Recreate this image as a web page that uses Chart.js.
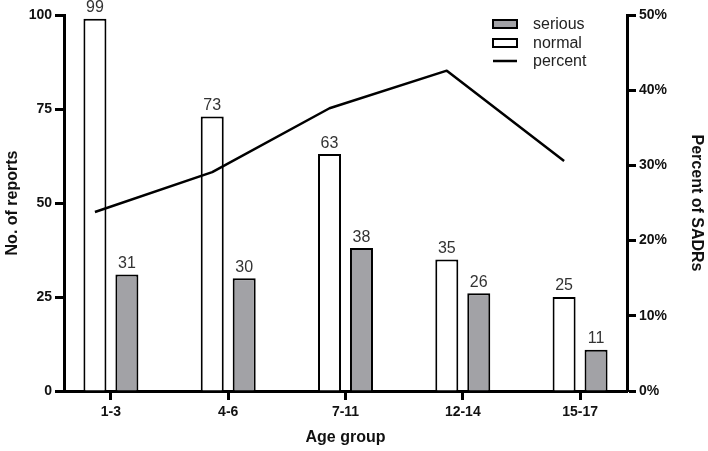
<!DOCTYPE html>
<html><head><meta charset="utf-8">
<script src="https://cdn.jsdelivr.net/npm/chart.js@4"></script>
<style>html,body{margin:0;padding:0;background:#fff}</style>
</head><body>
<canvas id="c" width="708" height="451"></canvas>
<script>
const categories = ['1-3', '4-6', '7-11', '12-14', '15-17'];
const normalReports = [99, 73, 63, 35, 25];
const seriousReports = [31, 30, 38, 26, 11];
const percentSADRs = [23.8, 29.1, 37.6, 42.6, 30.6];
const leftTicks = [0, 25, 50, 75, 100];
const rightTicks = [0, 10, 20, 30, 40, 50];

const FONT = '"Liberation Sans", Arial, Helvetica, sans-serif';
const CAT_PCT = 0.545;
const BAR_PCT = 0.72;
const lineShift = -CAT_PCT / 4; // centre of the first bar slot in each group

const valueLabels = {
  id: 'valueLabels',
  afterDatasetsDraw(chart) {
    const ctx = chart.ctx;
    ctx.save();
    ctx.font = '16px ' + FONT;
    ctx.fillStyle = '#333';
    ctx.textAlign = 'center';
    ctx.textBaseline = 'bottom';
    chart.data.datasets.forEach((ds, di) => {
      if (ds.type === 'line') return;
      const meta = chart.getDatasetMeta(di);
      meta.data.forEach((el, i) => {
        ctx.fillText(String(ds.data[i].y), el.x, el.y - 3);
      });
    });
    ctx.restore();
  }
};

const customLegend = {
  id: 'customLegend',
  afterDraw(chart) {
    const ctx = chart.ctx;
    const a = chart.chartArea;
    const x0 = a.right - 134, tx = a.right - 94;
    const order = [1, 0, 2];
    const rowY = [a.top + 9, a.top + 28, a.top + 46];
    ctx.save();
    ctx.font = '16px ' + FONT;
    ctx.textBaseline = 'middle';
    ctx.textAlign = 'left';
    order.forEach((di, r) => {
      const ds = chart.data.datasets[di];
      const y = rowY[r];
      if (ds.type === 'line') {
        ctx.strokeStyle = '#000';
        ctx.lineWidth = 2.5;
        ctx.beginPath();
        ctx.moveTo(x0, y);
        ctx.lineTo(x0 + 24, y);
        ctx.stroke();
      } else {
        ctx.fillStyle = ds.backgroundColor;
        ctx.fillRect(x0, y - 4, 24, 8);
        ctx.strokeStyle = '#000';
        ctx.lineWidth = 2;
        ctx.strokeRect(x0, y - 4, 24, 8);
      }
      ctx.fillStyle = '#222';
      ctx.fillText(ds.label, tx, y + 1);
    });
    ctx.restore();
  }
};

const axisGrid = {
  display: true, drawOnChartArea: false, drawTicks: true, offset: false,
  tickLength: 9, tickWidth: 3, tickColor: '#000'
};
const axisBorder = { display: true, width: 3, color: '#000' };

new Chart(document.getElementById('c'), {
  type: 'bar',
  data: {
    datasets: [
      {
        label: 'normal',
        data: normalReports.map((v, i) => ({ x: i, y: v })),
        backgroundColor: '#ffffff', borderColor: '#000', borderWidth: 2,
        categoryPercentage: CAT_PCT, barPercentage: BAR_PCT,
        xAxisID: 'x', yAxisID: 'y', order: 2
      },
      {
        label: 'serious',
        data: seriousReports.map((v, i) => ({ x: i, y: v })),
        backgroundColor: '#a2a2a6', borderColor: '#000', borderWidth: 2,
        categoryPercentage: CAT_PCT, barPercentage: BAR_PCT,
        xAxisID: 'x', yAxisID: 'y', order: 2
      },
      {
        type: 'line',
        label: 'percent',
        data: percentSADRs.map((v, i) => ({ x: i + lineShift, y: v })),
        borderColor: '#000', borderWidth: 2.5, pointRadius: 0,
        fill: false, tension: 0, borderJoinStyle: 'round',
        xAxisID: 'x', yAxisID: 'y2', order: 1
      }
    ]
  },
  options: {
    responsive: false,
    animation: false,
    devicePixelRatio: 1,
    layout: { padding: { top: 15, left: 0, right: 0, bottom: 0 } },
    plugins: { legend: { display: false }, tooltip: { enabled: false } },
    scales: {
      x: {
        type: 'linear', position: 'bottom', offset: false,
        min: -0.4, max: categories.length - 0.6,
        afterBuildTicks(s) { s.ticks = categories.map((_, i) => ({ value: i })); },
        afterFit(s) { s.height = 60; },
        grid: axisGrid, border: axisBorder,
        ticks: {
          callback: (v) => categories[v],
          font: { family: FONT, size: 14, weight: 'bold' }, color: '#111',
          padding: 4, maxRotation: 0, autoSkip: false
        },
        title: {
          display: true, text: 'Age group',
          font: { family: FONT, size: 16, weight: 'bold' }, color: '#111',
          padding: { top: 4, bottom: 4 }
        }
      },
      y: {
        type: 'linear', position: 'left', min: 0, max: 100,
        afterBuildTicks(s) { s.ticks = leftTicks.map(v => ({ value: v })); },
        afterFit(s) { s.width = 64; },
        grid: axisGrid, border: axisBorder,
        ticks: { font: { family: FONT, size: 14, weight: 'bold' }, color: '#111', padding: 3 },
        title: {
          display: true, text: 'No. of reports',
          font: { family: FONT, size: 16, weight: 'bold' }, color: '#111',
          padding: { top: 3, bottom: 2 }
        }
      },
      y2: {
        type: 'linear', position: 'right', min: 0, max: 50,
        afterBuildTicks(s) { s.ticks = rightTicks.map(v => ({ value: v })); },
        afterFit(s) { s.width = 81; },
        grid: axisGrid, border: axisBorder,
        ticks: {
          callback: (v) => v + '%',
          font: { family: FONT, size: 14, weight: 'bold' }, color: '#111', padding: 3
        },
        title: {
          display: true, text: 'Percent of SADRs',
          font: { family: FONT, size: 16, weight: 'bold' }, color: '#111',
          padding: { top: 2, bottom: 2 }
        }
      }
    }
  },
  plugins: [valueLabels, customLegend]
});
</script>
</body></html>
